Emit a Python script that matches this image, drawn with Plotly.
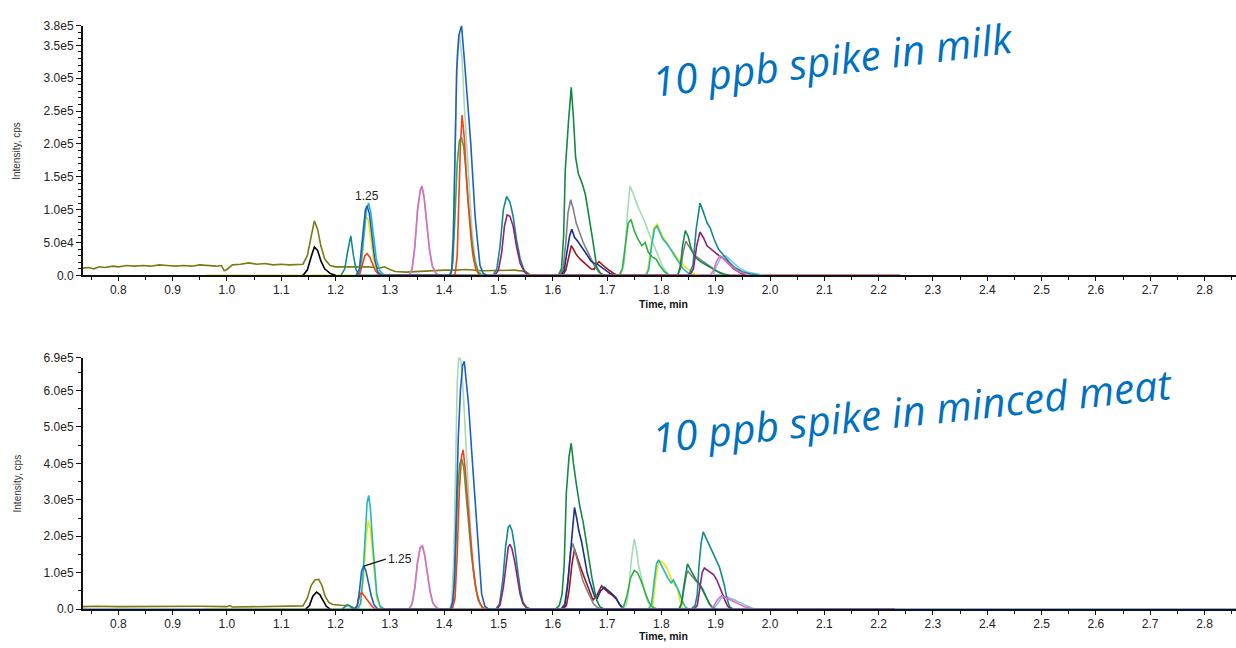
import plotly.graph_objects as go

# ---------------- data: (retention time [min], intensity [k cps]) ----------------
# Top panel: 10 ppb spike in milk
MILK_OLIVE = [(0.735, 11), (0.745, 12), (0.755, 10), (0.765, 13), (0.775, 12), (0.79, 14), (0.80, 13),
              (0.815, 15), (0.83, 14), (0.845, 15), (0.86, 14), (0.875, 16), (0.89, 15), (0.905, 14),
              (0.92, 15), (0.935, 14), (0.95, 16), (0.965, 15), (0.98, 14), (0.99, 15), (0.995, 7),
              (1.0, 9), (1.01, 16), (1.025, 17), (1.04, 19), (1.055, 17), (1.07, 18), (1.085, 16),
              (1.10, 17), (1.115, 16), (1.13, 16), (1.14, 17), (1.148, 30), (1.155, 60), (1.161, 83),
              (1.167, 70), (1.173, 45), (1.18, 25), (1.19, 15), (1.2, 13), (1.22, 13), (1.24, 12),
              (1.26, 13), (1.28, 11), (1.29, 13), (1.30, 9), (1.31, 6), (1.33, 5), (1.35, 6), (1.38, 7),
              (1.40, 8), (1.42, 8), (1.44, 9), (1.47, 7), (1.50, 8), (1.53, 8), (1.55, 6), (1.56, 0)]
MILK_BLACK = [(1.14, 0), (1.148, 8), (1.155, 28), (1.161, 43), (1.167, 38), (1.173, 22), (1.18, 10),
              (1.19, 3), (1.2, 0)]
MILK_TEAL = [(1.21, 0), (1.217, 10), (1.222, 35), (1.228, 60), (1.233, 30), (1.238, 8), (1.245, 0),
             (1.49, 0), (1.497, 10), (1.503, 45), (1.509, 100), (1.515, 120), (1.521, 112), (1.527, 90),
             (1.533, 55), (1.54, 25), (1.547, 8), (1.555, 0),
             (1.85, 0), (1.858, 15), (1.864, 70), (1.871, 110), (1.877, 97), (1.884, 80), (1.89, 72),
             (1.897, 55), (1.905, 40), (1.915, 30), (1.925, 20), (1.935, 12), (1.95, 5), (1.965, 2), (1.98, 0)]
MILK_BLUE = [(1.238, 0), (1.244, 10), (1.25, 60), (1.255, 100), (1.258, 106), (1.262, 95), (1.267, 60),
             (1.272, 25), (1.278, 5), (1.285, 0),
             (1.41, 0), (1.414, 8), (1.417, 60), (1.42, 210), (1.423, 310), (1.427, 365), (1.432, 380),
             (1.437, 330), (1.441, 280), (1.445, 245), (1.449, 200), (1.453, 140), (1.457, 90),
             (1.461, 55), (1.466, 15), (1.472, 3), (1.48, 0)]
MILK_LIGHTGREEN = [(1.41, 0), (1.414, 10), (1.418, 100), (1.421, 250), (1.424, 340), (1.428, 368),
                   (1.433, 330), (1.437, 260), (1.441, 200), (1.446, 130), (1.451, 70), (1.456, 30),
                   (1.462, 8), (1.47, 0),
                   (1.725, 0), (1.732, 20), (1.737, 90), (1.742, 136), (1.748, 125), (1.755, 108),
                   (1.762, 95), (1.77, 80), (1.778, 62), (1.786, 45), (1.794, 28), (1.802, 14),
                   (1.81, 4), (1.815, 0)]
MILK_RED = [(1.244, 0), (1.249, 15), (1.254, 30), (1.258, 33), (1.263, 28), (1.268, 18), (1.273, 8),
            (1.28, 0),
            (1.42, 0), (1.424, 30), (1.427, 120), (1.43, 200), (1.433, 244), (1.437, 210), (1.441, 150),
            (1.445, 100), (1.449, 60), (1.453, 30), (1.458, 10), (1.465, 0)]
MILK_GREEN = [(1.412, 0), (1.416, 20), (1.42, 90), (1.424, 170), (1.428, 205), (1.432, 210), (1.436, 195),
              (1.44, 160), (1.444, 110), (1.448, 75), (1.452, 45), (1.457, 20), (1.463, 5), (1.47, 0),
              (1.722, 0), (1.728, 10), (1.734, 45), (1.739, 80), (1.744, 85), (1.75, 68), (1.757, 55),
              (1.764, 45), (1.77, 50), (1.776, 35), (1.783, 28), (1.79, 25), (1.797, 15), (1.805, 6),
              (1.815, 0)]
MILK_PINK = [(1.335, 0), (1.341, 10), (1.346, 45), (1.351, 100), (1.356, 130), (1.359, 136), (1.363, 120),
             (1.368, 80), (1.373, 40), (1.378, 15), (1.385, 3), (1.39, 0),
             (1.89, 0), (1.896, 8), (1.902, 22), (1.908, 30), (1.915, 24), (1.923, 18), (1.932, 12),
             (1.942, 6), (1.955, 2), (1.965, 0)]
MILK_LIGHTBLUE = [(1.335, 0), (1.341, 9), (1.346, 42), (1.351, 98), (1.356, 128), (1.359, 134),
                  (1.363, 118), (1.368, 78), (1.373, 38), (1.378, 14), (1.385, 3), (1.39, 0),
                  (1.895, 0), (1.902, 15), (1.91, 28), (1.918, 30), (1.926, 24), (1.935, 16), (1.945, 10),
                  (1.958, 5), (1.975, 2), (1.99, 0)]
MILK_CYAN = [(1.24, 0), (1.246, 10), (1.252, 60), (1.257, 100), (1.261, 110), (1.265, 95), (1.27, 60),
             (1.275, 25), (1.282, 6), (1.29, 0),
             (1.772, 0), (1.777, 10), (1.782, 45), (1.787, 70), (1.792, 75), (1.797, 65), (1.803, 55),
             (1.81, 48), (1.817, 40), (1.824, 30), (1.832, 20), (1.84, 10), (1.85, 3), (1.86, 0)]
MILK_YELLOW = [(0.96, 0), (1.15, 0), (1.243, 0), (1.248, 15), (1.252, 60), (1.256, 90), (1.26, 85),
               (1.265, 55), (1.27, 25), (1.276, 5), (1.283, 0),
               (1.77, 0), (1.775, 8), (1.78, 40), (1.786, 72), (1.792, 78), (1.797, 70), (1.803, 58),
               (1.81, 50), (1.817, 40), (1.825, 32), (1.833, 22), (1.842, 14), (1.852, 8), (1.862, 2),
               (1.87, 0)]
MILK_PURPLE = [(1.493, 0), (1.5, 8), (1.506, 35), (1.511, 75), (1.516, 92), (1.521, 90), (1.527, 75),
               (1.533, 45), (1.54, 18), (1.548, 5), (1.555, 0),
               (1.852, 0), (1.859, 10), (1.865, 45), (1.871, 66), (1.877, 58), (1.884, 45), (1.891, 40),
               (1.898, 35), (1.906, 30), (1.915, 25), (1.924, 18), (1.933, 10), (1.945, 4), (1.955, 0)]
MILK_DARKGREEN = [(1.61, 0), (1.616, 10), (1.62, 60), (1.623, 160), (1.629, 235), (1.634, 286),
                  (1.638, 240), (1.642, 180), (1.647, 155), (1.654, 140), (1.66, 123), (1.666, 95),
                  (1.672, 62), (1.677, 35), (1.681, 12), (1.688, 3), (1.695, 0),
                  (1.83, 0), (1.835, 15), (1.839, 45), (1.844, 68), (1.849, 60), (1.855, 40), (1.862, 28),
                  (1.87, 22), (1.878, 18), (1.886, 14), (1.895, 10), (1.905, 5), (1.915, 2), (1.925, 0)]
MILK_GRAY = [(1.613, 0), (1.619, 10), (1.624, 50), (1.628, 95), (1.633, 115), (1.638, 100), (1.643, 80),
             (1.649, 65), (1.656, 50), (1.663, 38), (1.67, 25), (1.677, 14), (1.685, 5), (1.695, 0),
             (1.83, 0), (1.836, 12), (1.84, 35), (1.845, 52), (1.85, 45), (1.856, 38), (1.862, 30),
             (1.87, 25), (1.878, 20), (1.887, 15), (1.896, 10), (1.907, 4), (1.92, 0)]
MILK_NAVY = [(1.615, 0), (1.621, 8), (1.626, 35), (1.631, 60), (1.635, 70), (1.64, 58), (1.646, 52),
             (1.652, 45), (1.658, 38), (1.664, 30), (1.67, 22), (1.677, 18), (1.684, 16), (1.69, 12),
             (1.697, 7), (1.705, 3), (1.715, 0)]
MILK_DARKRED = [(1.40, 0), (1.618, 0), (1.624, 8), (1.629, 28), (1.634, 45), (1.638, 40), (1.643, 32),
                (1.65, 25), (1.657, 20), (1.664, 14), (1.67, 10), (1.676, 9), (1.68, 16), (1.685, 21),
                (1.69, 17), (1.697, 12), (1.705, 7), (1.712, 3), (1.72, 0), (2.24, 0)]

# Bottom panel: 10 ppb spike in minced meat
MEAT_OLIVE = [(0.735, 7), (0.76, 8), (0.80, 7), (0.85, 8), (0.90, 7), (0.95, 8), (1.0, 7), (1.005, 10),
              (1.01, 6), (1.05, 7), (1.10, 8), (1.14, 9), (1.148, 30), (1.155, 65), (1.162, 80),
              (1.169, 82), (1.175, 65), (1.181, 35), (1.188, 18), (1.195, 13), (1.21, 11), (1.225, 10),
              (1.235, 3), (1.24, 0)]
MEAT_BLACK = [(1.145, 0), (1.152, 10), (1.158, 35), (1.165, 47), (1.171, 40), (1.177, 22), (1.183, 8),
              (1.19, 0)]
MEAT_TEAL = [(1.212, 0), (1.218, 8), (1.222, 12), (1.227, 8), (1.233, 0),
             (1.495, 0), (1.502, 15), (1.508, 80), (1.513, 170), (1.518, 225), (1.521, 230), (1.525, 215),
             (1.53, 170), (1.535, 110), (1.54, 55), (1.545, 20), (1.552, 5), (1.56, 0),
             (1.855, 0), (1.862, 10), (1.866, 40), (1.869, 115), (1.873, 180), (1.877, 212), (1.882, 195),
             (1.89, 168), (1.896, 150), (1.902, 131), (1.907, 115), (1.911, 95), (1.916, 65), (1.92, 34),
             (1.925, 8), (1.932, 0)]
MEAT_BLUE = [(0.735, 0), (1.235, 0), (1.24, 10), (1.244, 50), (1.248, 105), (1.252, 118), (1.256, 105),
             (1.261, 70), (1.266, 35), (1.271, 12), (1.278, 0),
             (1.412, 0), (1.416, 20), (1.419, 80), (1.423, 290), (1.426, 470), (1.43, 600), (1.434, 670),
             (1.437, 680), (1.441, 620), (1.445, 560), (1.451, 426), (1.457, 292), (1.463, 158),
             (1.469, 42), (1.475, 8), (1.482, 0), (2.86, 0)]
MEAT_LIGHTGREEN = [(1.41, 0), (1.414, 20), (1.418, 150), (1.421, 400), (1.424, 620), (1.427, 695),
                   (1.431, 680), (1.435, 600), (1.44, 450), (1.445, 300), (1.45, 170), (1.456, 80),
                   (1.462, 25), (1.47, 5), (1.478, 0),
                   (1.73, 0), (1.736, 15), (1.741, 70), (1.745, 140), (1.75, 192), (1.754, 165),
                   (1.758, 120), (1.764, 80), (1.77, 42), (1.775, 20), (1.78, 8), (1.787, 0)]
MEAT_RED = [(1.236, 0), (1.241, 15), (1.245, 40), (1.248, 46), (1.252, 38), (1.257, 28), (1.262, 18),
            (1.267, 8), (1.273, 0),
            (1.415, 0), (1.42, 30), (1.424, 150), (1.428, 330), (1.432, 420), (1.435, 437), (1.439, 380),
            (1.443, 300), (1.448, 200), (1.453, 120), (1.458, 60), (1.463, 25), (1.47, 5), (1.478, 0)]
MEAT_GREEN = [(1.412, 0), (1.417, 30), (1.421, 150), (1.425, 330), (1.429, 400), (1.432, 413), (1.436, 390),
              (1.44, 320), (1.445, 230), (1.45, 150), (1.455, 90), (1.46, 45), (1.466, 15), (1.474, 0),
              (1.725, 0), (1.731, 10), (1.737, 40), (1.743, 85), (1.75, 106), (1.756, 100), (1.762, 80),
              (1.768, 55), (1.774, 30), (1.78, 12), (1.787, 3), (1.795, 0)]
MEAT_PINK = [(1.335, 0), (1.341, 15), (1.346, 60), (1.351, 130), (1.356, 170), (1.36, 174), (1.364, 150),
             (1.369, 100), (1.374, 50), (1.379, 18), (1.386, 4), (1.392, 0),
             (1.89, 0), (1.897, 10), (1.904, 28), (1.911, 37), (1.918, 32), (1.926, 27), (1.934, 22),
             (1.943, 15), (1.953, 7), (1.965, 2), (1.975, 0)]
MEAT_LIGHTBLUE = [(1.335, 0), (1.341, 14), (1.346, 58), (1.351, 127), (1.356, 167), (1.36, 171),
                  (1.364, 148), (1.369, 98), (1.374, 48), (1.379, 17), (1.386, 4), (1.392, 0),
                  (1.895, 0), (1.902, 12), (1.91, 30), (1.918, 35), (1.926, 31), (1.935, 25), (1.945, 18),
                  (1.955, 10), (1.965, 4), (1.975, 0)]
MEAT_CYAN = [(1.24, 0), (1.246, 15), (1.25, 80), (1.254, 200), (1.258, 290), (1.261, 312), (1.264, 280),
             (1.268, 190), (1.272, 100), (1.276, 40), (1.282, 8), (1.29, 0),
             (1.776, 0), (1.782, 15), (1.787, 80), (1.791, 125), (1.795, 135), (1.8, 120), (1.806, 100),
             (1.812, 85), (1.818, 72), (1.822, 80), (1.826, 68), (1.832, 50), (1.838, 25), (1.844, 6),
             (1.85, 0)]
MEAT_YELLOW = [(0.96, 0), (1.242, 0), (1.247, 20), (1.252, 90), (1.256, 190), (1.26, 243), (1.264, 220),
               (1.268, 150), (1.272, 80), (1.276, 30), (1.282, 5), (1.29, 0),
               (1.78, 0), (1.785, 20), (1.79, 90), (1.795, 130), (1.8, 131), (1.805, 125), (1.81, 113),
               (1.815, 95), (1.82, 77), (1.825, 65), (1.829, 58), (1.834, 24), (1.838, 5), (1.842, 0)]
MEAT_PURPLE = [(1.497, 0), (1.503, 12), (1.509, 60), (1.514, 130), (1.518, 170), (1.521, 178), (1.525, 165),
               (1.53, 130), (1.535, 80), (1.54, 40), (1.545, 15), (1.552, 3), (1.56, 0),
               (1.86, 0), (1.866, 10), (1.871, 60), (1.875, 100), (1.879, 113), (1.884, 108), (1.89, 100),
               (1.896, 95), (1.902, 80), (1.908, 60), (1.913, 40), (1.917, 24), (1.922, 8), (1.928, 0)]
MEAT_DARKGREEN = [(1.605, 0), (1.612, 10), (1.617, 40), (1.621, 120), (1.625, 320), (1.63, 420),
                  (1.634, 455), (1.638, 400), (1.644, 337), (1.65, 280), (1.656, 238), (1.663, 168),
                  (1.668, 120), (1.672, 87), (1.677, 50), (1.681, 24), (1.687, 6), (1.695, 0),
                  (1.832, 0), (1.837, 15), (1.841, 60), (1.845, 105), (1.848, 124), (1.853, 110),
                  (1.858, 95), (1.864, 80), (1.87, 70), (1.876, 55), (1.882, 35), (1.888, 15), (1.894, 4),
                  (1.9, 0)]
MEAT_GRAY = [(1.615, 0), (1.622, 15), (1.628, 80), (1.633, 160), (1.637, 180), (1.642, 150), (1.648, 115),
             (1.655, 80), (1.662, 55), (1.668, 35), (1.675, 15), (1.682, 5), (1.69, 0),
             (1.832, 0), (1.837, 12), (1.842, 60), (1.846, 95), (1.849, 104), (1.854, 95), (1.86, 85),
             (1.866, 75), (1.872, 62), (1.878, 45), (1.884, 28), (1.89, 12), (1.896, 3), (1.902, 0)]
MEAT_NAVY = [(1.615, 0), (1.622, 10), (1.627, 60), (1.632, 150), (1.637, 250), (1.64, 279), (1.644, 250),
             (1.648, 215), (1.653, 185), (1.658, 140), (1.663, 102), (1.668, 75), (1.672, 54), (1.677, 35),
             (1.682, 30), (1.688, 50), (1.695, 60), (1.702, 52), (1.709, 42), (1.716, 32), (1.722, 15),
             (1.728, 3), (1.735, 0)]
MEAT_DARKRED = [(1.618, 0), (1.625, 10), (1.63, 50), (1.635, 120), (1.64, 165), (1.645, 140), (1.65, 120),
                (1.656, 95), (1.662, 70), (1.668, 45), (1.674, 25), (1.68, 35), (1.686, 55), (1.69, 64),
                (1.696, 55), (1.703, 45), (1.71, 38), (1.717, 28), (1.724, 12), (1.73, 0), (2.23, 0)]

# marker on the y axis (left edge triangle) and peak labels
MILK_MARKER = (0.7305, 18)
MEAT_MARKER = (0.7305, 36)
MILK_PEAK_LABEL = (1.257, 106, "1.25")
MEAT_PEAK_LABEL = (1.252, 118, "1.25")

MILK_YTICKS = [0, 50, 100, 150, 200, 250, 300, 350, 380]
MILK_YTEXT = ["0.0", "5.0e4", "1.0e5", "1.5e5", "2.0e5", "2.5e5", "3.0e5", "3.5e5", "3.8e5"]
MEAT_YTICKS = [0, 100, 200, 300, 400, 500, 600, 690]
MEAT_YTEXT = ["0.0", "1.0e5", "2.0e5", "3.0e5", "4.0e5", "5.0e5", "6.0e5", "6.9e5"]

# ---------------- styles ----------------
C = dict(olive="#7d7a12", black="#000000", teal="#148a8a", blue="#1f5fbf", lightgreen="#a6d9b8",
         red="#f2431c", green="#2fb043", pink="#e06fb6", lightblue="#78c4ee", cyan="#1fb6c6",
         yellow="#f2e600", purple="#8e2080", darkgreen="#128a45", gray="#808080", navy="#1d2f8c",
         darkred="#a3141a")

MILK_ORDER = [(MILK_OLIVE, "olive"), (MILK_DARKRED, "darkred"), (MILK_LIGHTGREEN, "lightgreen"),
              (MILK_LIGHTBLUE, "lightblue"), (MILK_YELLOW, "yellow"), (MILK_CYAN, "cyan"),
              (MILK_TEAL, "teal"), (MILK_GRAY, "gray"), (MILK_NAVY, "navy"), (MILK_DARKGREEN, "darkgreen"),
              (MILK_GREEN, "green"), (MILK_PURPLE, "purple"), (MILK_PINK, "pink"), (MILK_RED, "red"),
              (MILK_BLACK, "black"), (MILK_BLUE, "blue")]
MEAT_ORDER = [(MEAT_OLIVE, "olive"), (MEAT_DARKRED, "darkred"), (MEAT_LIGHTGREEN, "lightgreen"),
              (MEAT_LIGHTBLUE, "lightblue"), (MEAT_YELLOW, "yellow"), (MEAT_CYAN, "cyan"),
              (MEAT_TEAL, "teal"), (MEAT_GRAY, "gray"), (MEAT_NAVY, "navy"), (MEAT_DARKGREEN, "darkgreen"),
              (MEAT_GREEN, "green"), (MEAT_PURPLE, "purple"), (MEAT_PINK, "pink"), (MEAT_RED, "red"),
              (MEAT_BLACK, "black"), (MEAT_BLUE, "blue")]

fig = go.Figure()


def add_panel(order, xa, ya):
    for series, cname in order:
        fig.add_trace(go.Scatter(
            x=[p[0] for p in series], y=[p[1] for p in series], mode="lines",
            line=dict(color=C[cname], width=1.6), xaxis=xa, yaxis=ya,
            showlegend=False, hoverinfo="skip"))


add_panel(MILK_ORDER, "x", "y")
add_panel(MEAT_ORDER, "x2", "y2")

for (mx, my), xa, ya in [(MILK_MARKER, "x", "y"), (MEAT_MARKER, "x2", "y2")]:
    fig.add_trace(go.Scatter(x=[mx], y=[my], mode="markers", xaxis=xa, yaxis=ya, cliponaxis=False,
                             marker=dict(symbol="triangle-right", size=10, color="#2a64c4",
                                         line=dict(color="#102040", width=1)),
                             showlegend=False, hoverinfo="skip"))

W, H = 1236, 648
LEFT = 83
TICKFONT = dict(family="Liberation Sans, Arial, sans-serif", size=12, color="#222222")

xcommon = dict(range=[0.735, 2.858], tickmode="linear", tick0=0.8, dtick=0.1, tickformat=".1f",
               ticks="outside", ticklen=4, tickwidth=1, tickcolor="#111", showline=True,
               linecolor="#111", linewidth=2, showgrid=False, zeroline=False, tickfont=TICKFONT,
               ticklabelstandoff=-2,
               minor=dict(tickmode="linear", tick0=0.75, dtick=0.05, ticks="outside", ticklen=3,
                          tickcolor="#111", showgrid=False),
               domain=[LEFT / W, 1.0])
ycommon = dict(ticks="outside", ticklen=5, tickwidth=1, tickcolor="#111", showline=True, linecolor="#111",
               linewidth=2, showgrid=False, zeroline=False, tickfont=TICKFONT, tickmode="array")

fig.update_layout(
    width=W, height=H, margin=dict(l=0, r=0, t=0, b=0),
    paper_bgcolor="white", plot_bgcolor="white",
    xaxis=dict(**xcommon, anchor="y"),
    xaxis2=dict(**xcommon, anchor="y2"),
    yaxis=dict(**ycommon, range=[0, 380], tickvals=MILK_YTICKS, ticktext=MILK_YTEXT,
               domain=[1 - 274.3 / H, 1 - 19 / H], anchor="x",
               minor=dict(tickmode="linear", tick0=0, dtick=10, ticks="outside", ticklen=3,
                          tickcolor="#111", showgrid=False)),
    yaxis2=dict(**ycommon, range=[0, 690], tickvals=MEAT_YTICKS, ticktext=MEAT_YTEXT,
                domain=[1 - 615.5 / H, 1 - 358.3 / H], anchor="x2",
                minor=dict(tickmode="linear", tick0=0, dtick=50, ticks="outside", ticklen=3,
                           tickcolor="#111", showgrid=False)),
)

ann = []
# axis titles
for ycen in (147, 487):
    ann.append(dict(text="Intensity, cps", xref="paper", yref="paper", x=17 / W, y=1 - ycen / H,
                    showarrow=False, textangle=-90, xanchor="center", yanchor="middle",
                    font=dict(family="Liberation Sans, Arial, sans-serif", size=10, color="#333")))
for ycen in (303.5, 642.5):
    ann.append(dict(text="<b>Time, min</b>", xref="paper", yref="paper", x=664 / W, y=1 - ycen / H,
                    showarrow=False, xanchor="center", yanchor="middle",
                    font=dict(family="Liberation Sans, Arial, sans-serif", size=10.5, color="#111")))
# peak labels
ann.append(dict(text=MILK_PEAK_LABEL[2], x=MILK_PEAK_LABEL[0], y=MILK_PEAK_LABEL[1], xref="x", yref="y",
                showarrow=False, yanchor="bottom", yshift=1,
                font=dict(family="Liberation Sans, Arial, sans-serif", size=12, color="#222")))
ann.append(dict(text=MEAT_PEAK_LABEL[2], x=MEAT_PEAK_LABEL[0], y=MEAT_PEAK_LABEL[1], xref="x2", yref="y2",
                showarrow=True, arrowhead=0, arrowwidth=1.2, arrowcolor="#111", ax=22, ay=-7,
                xanchor="left", standoff=0,
                font=dict(family="Liberation Sans, Arial, sans-serif", size=12, color="#222")))
# handwritten-style notes
HAND = dict(family="Open Sans, Lato, sans-serif", size=41, color="#0070C0", style="italic")
ann.append(dict(text="10 ppb spike in milk", xref="paper", yref="paper", x=832 / W, y=1 - 53 / H,
                showarrow=False, textangle=-7, xanchor="center", yanchor="middle", font=HAND))
ann.append(dict(text="10 ppb spike in minced meat", xref="paper", yref="paper", x=912 / W, y=1 - 412 / H,
                showarrow=False, textangle=-6, xanchor="center", yanchor="middle", font=HAND))
fig.update_layout(annotations=ann)

fig.write_html("out.html", config={"displayModeBar": False},
               post_script="document.body.style.margin='0px';document.body.style.overflow='hidden';")
